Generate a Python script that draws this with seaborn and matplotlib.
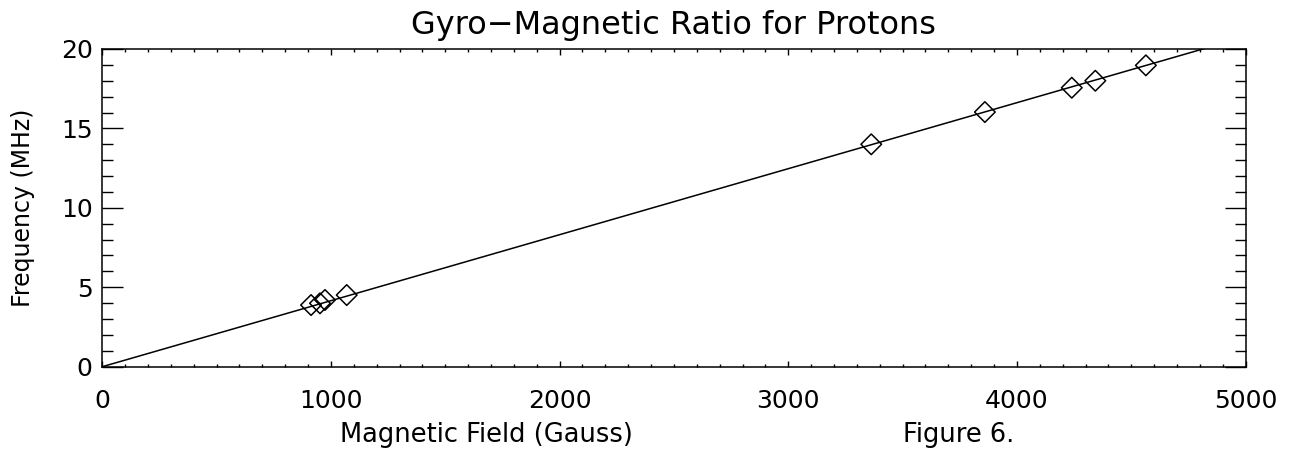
import numpy as np
import pandas as pd
import matplotlib
matplotlib.use("Agg")
import matplotlib.pyplot as plt
from matplotlib.ticker import MultipleLocator
import seaborn as sns

# Data
field_gauss = [913, 952, 974, 1069, 3363, 3860, 4240, 4343, 4564]
freq_mhz = [3.88, 3.99, 4.20, 4.51, 14.0, 16.03, 17.56, 18.0, 18.97]
x_ticks = [0, 1000, 2000, 3000, 4000, 5000]
y_ticks = [0, 5, 10, 15, 20]

sns.set_theme(style="ticks")
plt.rcParams['font.family'] = ['DejaVu Sans']
plt.rcParams['text.color'] = 'black'
plt.rcParams['axes.labelcolor'] = 'black'
plt.rcParams['xtick.color'] = 'black'
plt.rcParams['ytick.color'] = 'black'

df = pd.DataFrame({"field": field_gauss, "freq": freq_mhz})
# least-squares fit through the origin
slope = np.sum(df.field * df.freq) / np.sum(df.field ** 2)
fit = pd.DataFrame({"field": [0, 5000]})
fit["freq"] = slope * fit["field"]

fig = plt.figure(figsize=(12.98, 4.59), dpi=100)
ax = fig.add_axes([0.0788, 0.2011, 0.8808, 0.6922])

sns.lineplot(data=fit, x="field", y="freq", ax=ax, color="black", linewidth=1.1)
sns.scatterplot(data=df, x="field", y="freq", ax=ax, marker="D", s=110,
                facecolor="none", edgecolor="black", linewidth=1.1, zorder=3)

ax.set_xlim(0, 5000)
ax.set_ylim(0, 20)
ax.set_xticks(x_ticks)
ax.set_yticks(y_ticks)
ax.xaxis.set_minor_locator(MultipleLocator(100))
ax.yaxis.set_minor_locator(MultipleLocator(1))

ax.tick_params(axis="x", which="major", direction="in", length=4.6, width=1.0,
               top=True, bottom=True, labelsize=18, pad=16, labelcolor="black")
ax.tick_params(axis="x", which="minor", direction="in", length=2.3, width=1.0,
               top=True, bottom=True)
ax.tick_params(axis="y", which="major", direction="in", length=15, width=1.0,
               left=True, right=True, labelsize=18, pad=7, labelcolor="black")
ax.tick_params(axis="y", which="minor", direction="in", length=8, width=1.0,
               left=True, right=True)

for sp in ax.spines.values():
    sp.set_visible(True)
    sp.set_linewidth(1.1)
    sp.set_color("black")

ax.set_title("Gyro\u2212Magnetic Ratio for Protons", fontsize=23, pad=11,
             color="black")
ax.set_xlabel("Magnetic Field (Gauss)", fontsize=18.5, va="baseline")
ax.xaxis.set_label_coords(0.336, -0.236)
ax.set_ylabel("Frequency (MHz)", fontsize=17, va="baseline")
ax.yaxis.set_label_coords(-0.0633, 0.5)
ax.text(0.749, -0.236, "Figure 6.", transform=ax.transAxes, fontsize=18.5,
        ha="center", va="baseline")

fig.savefig("out.png", dpi=100)
